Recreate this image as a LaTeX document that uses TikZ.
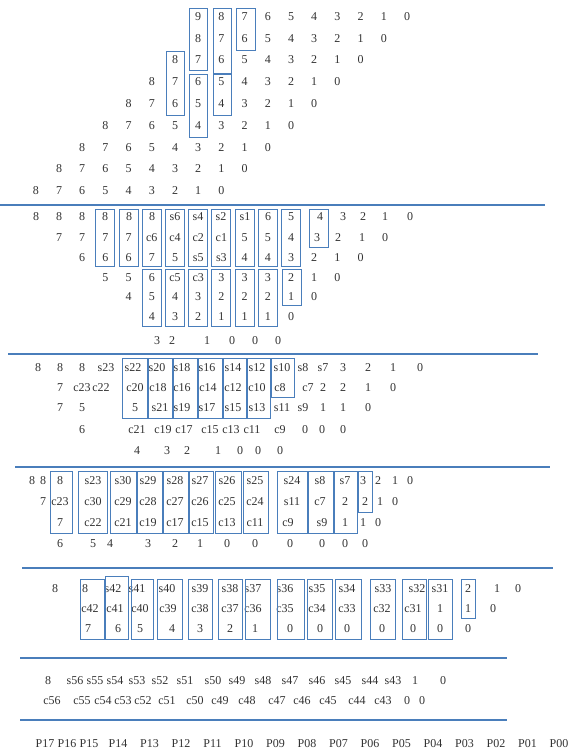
\documentclass[tikz,border=0pt]{standalone}
\usepackage{fontspec}
\setmainfont{Liberation Serif}
\definecolor{lb}{RGB}{74,126,187}
\newcommand\bxr[4]{\draw[bx] (#1,#3) rectangle (#2,#4);}
\begin{document}
\begin{tikzpicture}[x=1pt,y=-1pt,
 t/.style={font=\fontsize{12}{12}\selectfont,text=black!80,inner sep=0pt,text height=8.5pt,text depth=0pt},
 bx/.style={draw=lb,line width=1pt},
 sep/.style={draw=lb,line width=1.6pt}]
\useasboundingbox[fill=white] (0,0) rectangle (571,755);
% ---------- block 1 : partial products ----------
\foreach \d in {0,...,9} \node[t] (pa\d) at ({407-23.2*\d},16) {\d};
\foreach \r in {2,...,9} {
  \foreach \d in {0,...,8} {
    \node[t] (p\r x\d) at ({407-23.2*(\d+\r-1)},{16+21.8*(\r-1)}) {\d};
  }
}
\bxr{189}{207}{8}{70}
\bxr{213}{231}{8}{73}
\bxr{236}{255}{8}{50}
\bxr{166}{184}{51}{115}
\bxr{189}{207}{74}{137}
\bxr{213}{231}{74}{115}
\draw[sep] (0,205) -- (545,205);
% ---------- block 2 ----------
\foreach \x/\s [count=\i] in {36/8,59/8,82/8,105/8,129/8,152/8,175/s6,198/s4,221/s2,245/s1,268/6,291/5,320/4,343/3,363/2,385/1,410/0}
  \node[t] (bA\i) at (\x,216) {\s};
\foreach \c/\s in {15/7,14/7,13/7,12/7,11/c6,10/c4,9/c2,8/c1,7/5,6/5,5/4}
  \node[t] (bB\c) at ({407-23.2*\c},237) {\s};
\foreach \x/\s [count=\i] in {317/3,338/2,362/1,385/0}
  \node[t] (bBr\i) at (\x,237) {\s};
\foreach \c/\s in {14/6,13/6,12/6,11/7,10/5,9/s5,8/s3,7/4,6/4,5/3,4/2,3/1,2/0}
  \node[t] (bC\c) at ({407-23.2*\c},257) {\s};
\foreach \c/\s in {13/5,12/5,11/6,10/c5,9/c3,8/3,7/3,6/3,5/2,4/1,3/0}
  \node[t] (bD\c) at ({407-23.2*\c},277) {\s};
\foreach \c/\s in {12/4,11/5,10/4,9/3,8/2,7/2,6/2,5/1,4/0}
  \node[t] (bE\c) at ({407-23.2*\c},296) {\s};
\foreach \c/\s in {11/4,10/3,9/2,8/1,7/1,6/1,5/0}
  \node[t] (bF\c) at ({407-23.2*\c},316) {\s};
\foreach \x/\s [count=\i] in {157/3,172/2,207/1,232/0,255/0,278/0}
  \node[t] (bG\i) at (\x,340) {\s};
\foreach \c in {13,...,5} \draw[bx] ({407-23.2*\c-9.5},209) rectangle ({407-23.2*\c+9.5},266);
\bxr{309}{328}{209}{247}
\foreach \c in {11,...,6} \draw[bx] ({407-23.2*\c-9.5},269) rectangle ({407-23.2*\c+9.5},326);
\bxr{282}{301}{269}{305}
\draw[sep] (8,354) -- (538,354);
% ---------- block 3 ----------
\foreach \x/\s [count=\i] in {38/8,60/8,82/8,106/s23,133/s22,157/s20,182/s18,207/s16,233/s14,257/s12,282/s10,303/s8,323/s7,343/3,368/2,393/1,420/0}
  \node[t] (cA\i) at (\x,367) {\s};
\foreach \x/\s [count=\i] in {60/7,82/c23,101/c22,135/c20,158/c18,182/c16,208/c14,233/c12,257/c10,280/c8,308/c7,323/2,343/2,368/1,393/0}
  \node[t] (cB\i) at (\x,387) {\s};
\foreach \x/\s [count=\i] in {60/7,82/5,135/5,160/s21,182/s19,207/s17,233/s15,257/s13,282/s11,303/s9,323/1,343/1,368/0}
  \node[t] (cC\i) at (\x,407) {\s};
\foreach \x/\s [count=\i] in {82/6,137/c21,163/c19,184/c17,210/c15,231/c13,252/c11,280/c9,305/0,322/0,343/0}
  \node[t] (cD\i) at (\x,429) {\s};
\foreach \x/\s [count=\i] in {137/4,167/3,187/2,218/1,240/0,258/0,280/0}
  \node[t] (cE\i) at (\x,450) {\s};
\foreach \a/\b in {122/147,148/172,173/197,198/222,223/246,247/270} \bxr{\a}{\b}{358}{418}
\bxr{271}{294}{358}{397}
\draw[sep] (15,467) -- (550,467);
% ---------- block 4 ----------
\foreach \x/\s [count=\i] in {32/8,43/8,60/8,93/s23,123/s30,148/s29,175/s28,200/s27,227/s26,255/s25,292/s24,320/s8,345/s7,363/3,378/2,395/1,410/0}
  \node[t] (dA\i) at (\x,480) {\s};
\foreach \x/\s [count=\i] in {43/7,60/c23,93/c30,123/c29,148/c28,175/c27,200/c26,227/c25,255/c24,292/s11,320/c7,345/2,365/2,380/1,395/0}
  \node[t] (dB\i) at (\x,501) {\s};
\foreach \x/\s [count=\i] in {60/7,93/c22,123/c21,148/c19,175/c17,200/c15,227/c13,255/c11,288/c9,322/s9,345/1,363/1,378/0}
  \node[t] (dC\i) at (\x,522) {\s};
\foreach \x/\s [count=\i] in {60/6,93/5,110/4,148/3,175/2,200/1,227/0,255/0,290/0,322/0,345/0,365/0}
  \node[t] (dD\i) at (\x,543) {\s};
\foreach \a/\b in {50/72,78/107,110/136,137/162,163/188,189/213,215/241,243/268,277/307,308/333,334/357} \bxr{\a}{\b}{471}{533}
\bxr{358}{372}{471}{512}
\draw[sep] (22,568) -- (553,568);
% ---------- block 5 ----------
\foreach \x/\s [count=\i] in {55/8,85/8,113/s42,137/s41,167/s40,200/s39,230/s38,253/s37,285/s36,317/s35,347/s34,383/s33,417/s32,440/s31,468/2,497/1,518/0}
  \node[t] (eA\i) at (\x,588) {\s};
\foreach \x/\s [count=\i] in {90/c42,115/c41,140/c40,168/c39,200/c38,230/c37,253/c36,285/c35,317/c34,347/c33,382/c32,413/c31,440/1,468/1,493/0}
  \node[t] (eB\i) at (\x,608) {\s};
\foreach \x/\s [count=\i] in {88/7,118/6,140/5,172/4,200/3,230/2,255/1,290/0,320/0,347/0,382/0,413/0,440/0,468/0}
  \node[t] (eC\i) at (\x,628) {\s};
\foreach \a/\b in {80/104,131/153,157/182,188/212,218/242,245/270,277/304,307/332,335/361,370/395,402/426,428/452} \bxr{\a}{\b}{579}{639}
\bxr{105}{128}{576}{639}
\bxr{461}{475}{579}{618}
\draw[sep] (20,658) -- (507,658);
% ---------- block 6 ----------
\foreach \x/\s [count=\i] in {48/8,75/s56,95/s55,115/s54,137/s53,160/s52,185/s51,213/s50,237/s49,263/s48,290/s47,317/s46,343/s45,370/s44,393/s43,415/1,443/0}
  \node[t] (fA\i) at (\x,680) {\s};
\foreach \x/\s [count=\i] in {52/c56,82/c55,103/c54,123/c53,143/c52,167/c51,195/c50,220/c49,247/c48,277/c47,302/c46,328/c45,357/c44,383/c43,407/0,422/0}
  \node[t] (fB\i) at (\x,700) {\s};
\draw[sep] (20,720) -- (507,720);
% ---------- product bits ----------
\foreach \x/\s [count=\i] in {45/P17,67/P16,89/P15,118/P14,149.5/P13,181/P12,212.5/P11,244/P10,275.5/P09,307/P08,338.5/P07,370/P06,401.5/P05,433/P04,464.5/P03,496/P02,527.5/P01,559/P00}
  \node[t] (P\i) at (\x,743) {\s};
\end{tikzpicture}
\end{document}
